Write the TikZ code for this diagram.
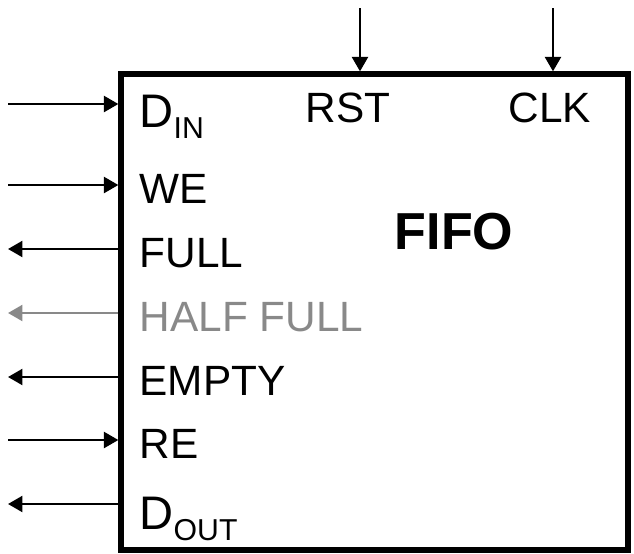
\documentclass[tikz,border=0pt]{standalone}
\usepackage{fontspec}
\setmainfont{Liberation Sans}
\usepackage{xcolor}
\usepackage{tikz}
\usetikzlibrary{arrows.meta,calc,positioning}
\definecolor{halfgray}{RGB}{137,137,137}
\newcommand{\sigsub}[2]{{\fontsize{13.4}{14}\selectfont #1}\raisebox{-3.4pt}{\fontsize{8.6}{9}\selectfont #2}}

\begin{document}
\begin{tikzpicture}
[pin/.style={line width=0.7pt,-{Triangle[length=1.45mm,width=1.6mm]}},
 lbl/.style={anchor=base west,inner sep=0pt,font=\fontsize{12.05}{13}\selectfont}]
\useasboundingbox (0,0) rectangle (6.34,5.53);
% block
\node[draw,line width=1.5pt,minimum width=5.07cm,minimum height=4.76cm,inner sep=0pt] (fifo) at (3.745,2.41) {};
\node[anchor=base,inner sep=0pt,font=\fontsize{14.8}{16}\selectfont\bfseries] (title) at (4.54,3.04) {FIFO};
% pins on the left side
\foreach \pin/\py in {din/4.49,we/3.68,full/3.04,half/2.40,empty/1.76,re/1.13,dout/0.49}
{
	\coordinate (\pin-ext) at (0.08,\py);
	\coordinate (\pin-int) at (fifo.west |- 0,\py);
}
\coordinate (rst-ext) at (3.60,5.45);
\coordinate (rst-int) at (rst-ext |- fifo.north);
\coordinate (clk-ext) at (5.53,5.45);
\coordinate (clk-int) at (clk-ext |- fifo.north);
% labels
\node[lbl] (din-lbl) at (1.39,4.26) {\sigsub{D}{IN}};
\foreach \pin/\py/\txt in {we/3.50/WE,full/2.86/FULL,empty/1.58/EMPTY,re/0.95/RE}
	\node[lbl] (\pin-lbl) at (1.39,\py) {\txt};
\node[lbl,text=halfgray] (half-lbl) at (1.39,2.22) {HALF FULL};
\node[lbl] (dout-lbl) at (1.39,0.24) {\sigsub{D}{OUT}};
\node[lbl] (rst-lbl) at (3.05,4.31) {RST};
\node[lbl] (clk-lbl) at (5.08,4.31) {CLK};
% connectors
\foreach \a/\b in {din-ext/din-int,we-ext/we-int,full-int/full-ext,empty-int/empty-ext,re-ext/re-int,dout-int/dout-ext,rst-ext/rst-int,clk-ext/clk-int}
	\draw[pin] (\a) -- (\b);
\draw[pin,halfgray] (half-int) -- (half-ext);
\end{tikzpicture}
\end{document}
